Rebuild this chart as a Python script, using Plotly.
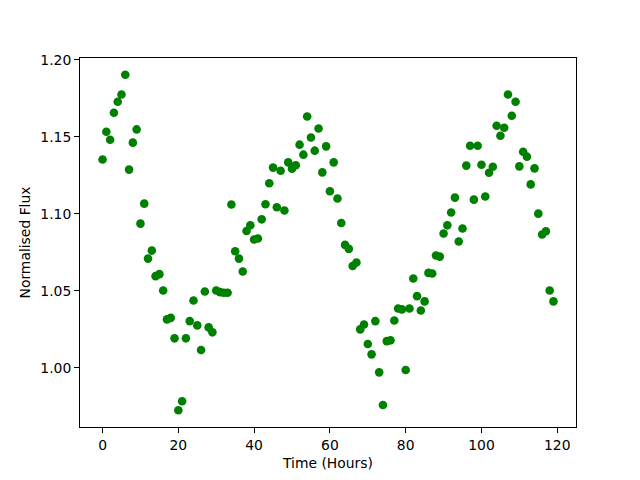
import plotly.graph_objects as go

hours = list(range(120))
flux = [
    1.1353, 1.1533, 1.1481, 1.1656, 1.1728, 1.1775, 1.1903, 1.1287, 1.1462, 1.1548,
    1.0936, 1.1066, 1.0709, 1.0761, 1.0595, 1.0608, 1.0502, 1.0314, 1.0324, 1.0191,
    0.9724, 0.9782, 1.0191, 1.0303, 1.0437, 1.0275, 1.0115, 1.0495, 1.0262, 1.0230,
    1.0502, 1.0491, 1.0487, 1.0487, 1.1060, 1.0757, 1.0709, 1.0625, 1.0888, 1.0925,
    1.0833, 1.0839, 1.0964, 1.1062, 1.1198, 1.1300, 1.1042, 1.1280, 1.1021, 1.1334,
    1.1293, 1.1315, 1.1449, 1.1384, 1.1632, 1.1496, 1.1410, 1.1554, 1.1269, 1.1438,
    1.1146, 1.1334, 1.1099, 1.0940, 1.0798, 1.0772, 1.0661, 1.0684, 1.0249, 1.0281,
    1.0154, 1.0087, 1.0303, 0.9970, 0.9758, 1.0173, 1.0178, 1.0307, 1.0385, 1.0379,
    0.9985, 1.0385, 1.0580, 1.0465, 1.0372, 1.0431, 1.0616, 1.0612, 1.0729, 1.0722,
    1.0872, 1.0925, 1.1008, 1.1105, 1.0820, 1.0904, 1.1313, 1.1442, 1.1092, 1.1442,
    1.1319, 1.1112, 1.1267, 1.1306, 1.1572, 1.1507, 1.1559, 1.1775, 1.1637, 1.1728,
    1.1308, 1.1403, 1.1371, 1.1191, 1.1295, 1.1001, 1.0865, 1.0887, 1.0502, 1.0431,
]
x_ticks = [0, 20, 40, 60, 80, 100, 120]
y_ticks = [1.00, 1.05, 1.10, 1.15, 1.20]

def padded(vals, frac=0.05):
    lo, hi = min(vals), max(vals)
    m = (hi - lo) * frac
    return [lo - m, hi + m]

fig = go.Figure()
fig.add_trace(go.Scatter(
    x=hours, y=flux, mode="markers",
    marker=dict(color="green", size=8.6, line=dict(width=0)),
    showlegend=False,
))

font = dict(family="DejaVu Sans", size=13.9, color="black")
axis_common = dict(
    showline=True, linecolor="black", linewidth=1.1, mirror=True,
    ticks="outside", ticklen=4.9, tickwidth=1.1, tickcolor="black",
    showgrid=False, zeroline=False, tickfont=font,
)
fig.update_layout(
    width=632, height=472,
    margin=dict(l=72, r=64, t=50, b=53),
    paper_bgcolor="white", plot_bgcolor="white",
    font=font,
    xaxis=dict(range=padded(hours), tickvals=x_ticks,
               title=dict(text="Time (Hours)", font=font, standoff=6),
               **axis_common),
    yaxis=dict(range=padded(flux), tickvals=y_ticks, tickformat=".2f",
               title=dict(text="Normalised Flux", font=font, standoff=6),
               **axis_common),
)
fig.write_html("out.html")
